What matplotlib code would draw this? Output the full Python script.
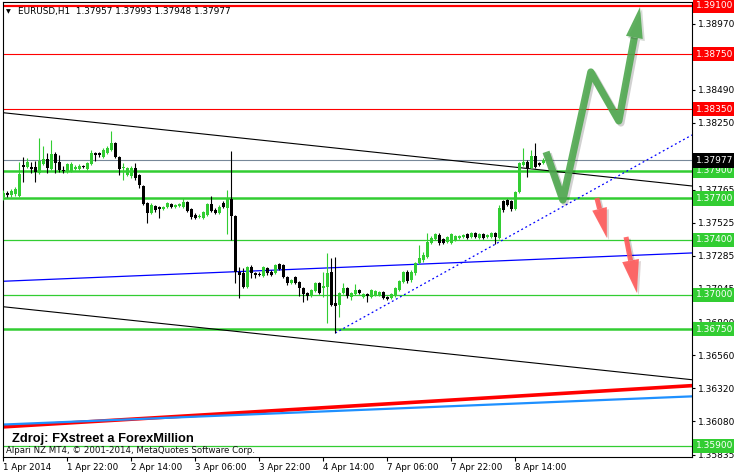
import numpy as np
import matplotlib.pyplot as plt
from matplotlib.patches import Polygon
from matplotlib import patheffects as pe

plt.rcParams['font.family'] = ['DejaVu Sans']

# EURUSD H1, bars from 1 Apr 2014 00:00 to 8 Apr 2014 21:00
opens = [1.37711, 1.37740, 1.37726, 1.37733, 1.37718, 1.37944, 1.37929, 1.37929, 1.37929, 1.37886,
         1.37951, 1.37988, 1.37915, 1.38024, 1.37966, 1.37908, 1.37893, 1.37900, 1.37915, 1.37915,
         1.37937, 1.37915, 1.37951, 1.38031, 1.38031, 1.38002, 1.38031, 1.38053, 1.38104, 1.38002,
         1.37922, 1.37871, 1.37864, 1.37922, 1.37871, 1.37791, 1.37668, 1.37595, 1.37646, 1.37638,
         1.37624, 1.37638, 1.37660, 1.37638, 1.37646, 1.37638, 1.37675, 1.37624, 1.37580, 1.37566,
         1.37558, 1.37580, 1.37660, 1.37617, 1.37595, 1.37668, 1.37631, 1.37697, 1.37573, 1.37166,
         1.37159, 1.37057, 1.37202, 1.37159, 1.37151, 1.37137, 1.37195, 1.37166, 1.37159, 1.37224,
         1.37217, 1.37130, 1.37086, 1.37130, 1.37093, 1.37049, 1.37013, 1.36991, 1.37027, 1.37086,
         1.37049, 1.37057, 1.37166, 1.36940, 1.36926, 1.37013, 1.37049, 1.36984, 1.37006, 1.37035,
         1.36984, 1.37006, 1.36984, 1.36998, 1.36998, 1.37020, 1.36984, 1.36977, 1.36991, 1.37035,
         1.37093, 1.37166, 1.37108, 1.37159, 1.37231, 1.37253, 1.37275, 1.37377, 1.37406, 1.37435,
         1.37406, 1.37384, 1.37377, 1.37399, 1.37413, 1.37420, 1.37442, 1.37420, 1.37449, 1.37413,
         1.37442, 1.37420, 1.37420, 1.37449, 1.37413, 1.37682, 1.37689, 1.37682, 1.37624, 1.37748,
         1.37944, 1.37966, 1.37922, 1.38009, 1.37959, 1.37957]
highs = [1.37762, 1.37755, 1.37769, 1.37784, 1.37966, 1.38002, 1.37995, 1.37966, 1.37973, 1.38140,
         1.38082, 1.38031, 1.38126, 1.38038, 1.38017, 1.37937, 1.37959, 1.37966, 1.37944, 1.37951,
         1.37944, 1.37966, 1.38053, 1.38038, 1.38038, 1.38068, 1.38082, 1.38191, 1.38111, 1.38009,
         1.37959, 1.37929, 1.37937, 1.37959, 1.37879, 1.37799, 1.37675, 1.37668, 1.37653, 1.37646,
         1.37646, 1.37675, 1.37668, 1.37660, 1.37668, 1.37704, 1.37682, 1.37631, 1.37595, 1.37588,
         1.37609, 1.37668, 1.37718, 1.37631, 1.37653, 1.37682, 1.37762, 1.38046, 1.37580, 1.37202,
         1.37195, 1.37210, 1.37217, 1.37166, 1.37166, 1.37210, 1.37202, 1.37181, 1.37224, 1.37231,
         1.37224, 1.37137, 1.37115, 1.37137, 1.37101, 1.37057, 1.37020, 1.37042, 1.37093, 1.37093,
         1.37166, 1.37304, 1.37268, 1.37275, 1.37020, 1.37086, 1.37057, 1.37020, 1.37079, 1.37042,
         1.37013, 1.37013, 1.37042, 1.37035, 1.37027, 1.37027, 1.36991, 1.37013, 1.37057, 1.37108,
         1.37173, 1.37181, 1.37181, 1.37239, 1.37362, 1.37311, 1.37449, 1.37428, 1.37449, 1.37449,
         1.37413, 1.37428, 1.37449, 1.37435, 1.37435, 1.37442, 1.37449, 1.37457, 1.37457, 1.37449,
         1.37449, 1.37442, 1.37457, 1.37457, 1.37653, 1.37689, 1.37697, 1.37689, 1.37755, 1.37966,
         1.38068, 1.37980, 1.38053, 1.38104, 1.37966, 1.37993]
lows = [1.37689, 1.37711, 1.37711, 1.37718, 1.37711, 1.37820, 1.37922, 1.37886, 1.37820, 1.37879,
        1.37944, 1.37886, 1.37908, 1.37886, 1.37893, 1.37886, 1.37886, 1.37893, 1.37908, 1.37908,
        1.37922, 1.37908, 1.37944, 1.37973, 1.38002, 1.37995, 1.38024, 1.38046, 1.37995, 1.37871,
        1.37835, 1.37864, 1.37849, 1.37835, 1.37777, 1.37653, 1.37522, 1.37588, 1.37602, 1.37558,
        1.37617, 1.37631, 1.37631, 1.37631, 1.37638, 1.37631, 1.37602, 1.37551, 1.37551, 1.37558,
        1.37551, 1.37573, 1.37602, 1.37588, 1.37588, 1.37631, 1.37442, 1.37399, 1.37086, 1.36977,
        1.37049, 1.37049, 1.37122, 1.37122, 1.37137, 1.37130, 1.37144, 1.37137, 1.37151, 1.37181,
        1.37122, 1.37071, 1.37079, 1.37079, 1.36991, 1.36948, 1.36962, 1.36984, 1.37020, 1.37006,
        1.36984, 1.36795, 1.36918, 1.36722, 1.36838, 1.37006, 1.36977, 1.36962, 1.36998, 1.37006,
        1.36977, 1.36948, 1.36977, 1.36991, 1.36991, 1.36969, 1.36962, 1.36969, 1.36984, 1.37027,
        1.37086, 1.37086, 1.37093, 1.37144, 1.37224, 1.37239, 1.37268, 1.37370, 1.37399, 1.37362,
        1.37370, 1.37377, 1.37370, 1.37391, 1.37406, 1.37413, 1.37406, 1.37413, 1.37413, 1.37406,
        1.37406, 1.37413, 1.37413, 1.37370, 1.37406, 1.37602, 1.37646, 1.37609, 1.37617, 1.37740,
        1.37937, 1.37857, 1.37915, 1.37922, 1.37937, 1.37948]
closes = [1.37740, 1.37726, 1.37755, 1.37769, 1.37879, 1.37929, 1.37966, 1.37915, 1.37893, 1.37973,
          1.37988, 1.37922, 1.38024, 1.37959, 1.37908, 1.37900, 1.37951, 1.37951, 1.37929, 1.37937,
          1.37929, 1.37959, 1.38031, 1.38017, 1.38017, 1.38053, 1.38068, 1.38104, 1.38002, 1.37915,
          1.37929, 1.37922, 1.37922, 1.37849, 1.37799, 1.37660, 1.37595, 1.37653, 1.37617, 1.37624,
          1.37638, 1.37668, 1.37638, 1.37653, 1.37660, 1.37675, 1.37609, 1.37566, 1.37558, 1.37573,
          1.37602, 1.37660, 1.37609, 1.37595, 1.37638, 1.37638, 1.37697, 1.37573, 1.37166, 1.37144,
          1.37057, 1.37202, 1.37159, 1.37144, 1.37144, 1.37202, 1.37159, 1.37144, 1.37217, 1.37188,
          1.37130, 1.37086, 1.37108, 1.37086, 1.37049, 1.37006, 1.36991, 1.37035, 1.37086, 1.37013,
          1.37064, 1.37159, 1.36926, 1.36918, 1.37013, 1.37049, 1.36991, 1.37013, 1.37035, 1.37013,
          1.37006, 1.36991, 1.37035, 1.37027, 1.37020, 1.36977, 1.36969, 1.37006, 1.37049, 1.37101,
          1.37166, 1.37101, 1.37166, 1.37231, 1.37268, 1.37290, 1.37384, 1.37413, 1.37442, 1.37377,
          1.37377, 1.37420, 1.37442, 1.37428, 1.37428, 1.37435, 1.37413, 1.37449, 1.37420, 1.37442,
          1.37413, 1.37435, 1.37449, 1.37420, 1.37631, 1.37617, 1.37653, 1.37624, 1.37748, 1.37959,
          1.37966, 1.37922, 1.38009, 1.37929, 1.37944, 1.37977]

time_labels = ['1 Apr 2014', '1 Apr 22:00', '2 Apr 14:00', '3 Apr 06:00', '3 Apr 22:00',
               '4 Apr 14:00', '7 Apr 06:00', '7 Apr 22:00', '8 Apr 14:00']
time_label_bars = [0, 16, 32, 48, 64, 80, 96, 112, 128]

price_ticks = [1.38970, 1.38730, 1.38490, 1.38250, 1.38005, 1.37765, 1.37525, 1.37285,
               1.37045, 1.36800, 1.36560, 1.36320, 1.36080, 1.35835]

red_levels = [1.3910, 1.3875, 1.3835]
red_widths = [1.6, 0.8, 0.8]
green_levels = [1.3790, 1.3770, 1.3740, 1.3700, 1.3675, 1.3590]
green_widths = [1.8, 1.8, 0.9, 0.9, 1.8, 0.9]
last_price = 1.37977

# trend lines as (bar, price) end points
channel_top = ([-0.1, 172.2], [1.38324, 1.37791])
channel_bottom = ([-0.1, 172.2], [1.36913, 1.36382])
blue_line = ([-0.1, 172.2], [1.37098, 1.37304])
support_dotted = ([83, 172.2], [1.36722, 1.38162])
red_long = ([-0.1, 172.2], [1.36039, 1.36339])
dodger_long = ([-0.1, 172.2], [1.36056, 1.36261])

# hand drawn scenario arrows (bar, price)
green_path_x = [135.7, 139.9, 146.9, 153.9, 159.2]
green_path_y = [1.38039, 1.37689, 1.38620, 1.38264, 1.39093]
red1_x = [148.4, 150.9]
red1_y = [1.37704, 1.37413]
red2_x = [155.7, 158.4]
red2_y = [1.37420, 1.37013]

LIME = '#32CD32'

fig = plt.figure(figsize=(7.34, 4.75), dpi=100)
ax = fig.add_axes([3 / 734, 18 / 475, 689 / 734, 455 / 475])
ax.set_xlim(-0.1, 172.2)
ax.set_ylim(1.35820, 1.39129)

for lvl, w in zip(red_levels, red_widths):
    ax.axhline(lvl, color='red', lw=w, zorder=1)
for lvl, w in zip(green_levels, green_widths):
    ax.axhline(lvl, color=LIME, lw=w, zorder=1)
ax.axhline(last_price, color='#778899', lw=0.8, zorder=1)

ax.plot(*channel_top, color='black', lw=0.8, zorder=2)
ax.plot(*channel_bottom, color='black', lw=0.8, zorder=2)
ax.plot(*blue_line, color='blue', lw=0.9, zorder=2)
ax.plot(*support_dotted, color='blue', lw=0.9, dashes=(1.5, 2.2), zorder=2)
ax.plot(*red_long, color='red', lw=2.6, zorder=2)
ax.plot(*dodger_long, color='#1E90FF', lw=1.6, zorder=2)

# candles
o = np.array(opens)
h = np.array(highs)
l = np.array(lows)
c = np.array(closes)
x = np.arange(len(o))
up = c >= o
cols = np.where(up, LIME, 'black')
ax.vlines(x, l, h, colors=cols, lw=0.8, zorder=3)
body = np.maximum(np.abs(c - o), 0.00007)
ax.bar(x, body, bottom=np.minimum(o, c), width=0.75, color=cols, lw=0, zorder=4)


def draw_arrow(xs, ys, color, shaft_w, head_len, head_w):
    pts = ax.transData.transform(np.column_stack([xs, ys]))
    tip = pts[-1]
    d = tip - pts[-2]
    u = d / np.hypot(*d)
    n = np.array([-u[1], u[0]])
    base = tip - u * head_len
    inv = ax.transData.inverted()
    shaft = inv.transform(np.vstack([pts[:-1], base]))
    ax.plot(shaft[:, 0], shaft[:, 1], color=color, lw=shaft_w, alpha=0.9,
            solid_capstyle='butt', solid_joinstyle='round', zorder=6,
            path_effects=[pe.SimpleLineShadow(offset=(1.5, -1.5), alpha=0.18), pe.Normal()])
    head = inv.transform([base + n * head_w / 2, tip, base - n * head_w / 2])
    ax.add_patch(Polygon(head, closed=True, fc=color, ec='none', alpha=0.9, zorder=6,
                         path_effects=[pe.SimplePatchShadow(offset=(1.5, -1.5), alpha=0.18), pe.Normal()]))


draw_arrow(green_path_x, green_path_y, '#4fa84f', 5.2, 31, 17)
draw_arrow(red1_x, red1_y, '#ff5a5a', 3.6, 30, 15)
draw_arrow(red2_x, red2_y, '#ff5a5a', 3.6, 33, 17)

# axes styling
for s in ax.spines.values():
    s.set_color('black')
    s.set_linewidth(0.8)
ax.yaxis.tick_right()
ax.set_yticks(price_ticks)
ax.set_yticklabels([f'{v:.5f}' for v in price_ticks])
ax.tick_params(axis='y', direction='out', length=2.5, width=0.8, pad=1.5, labelsize=6.5)
ax.set_xticks(time_label_bars)
ax.set_xticklabels(time_labels, ha='left')
ax.tick_params(axis='x', direction='out', length=3, width=0.8, pad=1, labelsize=6.3)

# price labels in coloured boxes on the right scale
box_levels = red_levels + green_levels + [last_price]
box_colors = ['red'] * len(red_levels) + [LIME] * len(green_levels) + ['black']
for lvl, col in zip(box_levels, box_colors):
    ax.annotate(f'{lvl:.5f}', xy=(1, lvl), xycoords=('axes fraction', 'data'),
                xytext=(2.5, 0), textcoords='offset points', ha='left', va='center',
                fontsize=6.5, color='white', annotation_clip=False, zorder=10,
                bbox=dict(boxstyle='square,pad=0.3', fc=col, ec='none'))

# header and footer texts
fig.text(6 / 734, 1 - 13 / 475, '\u25bc', fontsize=4.5, color='black')
fig.text(18 / 734, 1 - 14 / 475, 'EURUSD,H1  1.37957 1.37993 1.37948 1.37977',
         fontsize=6.4, color='black', va='baseline')
fig.text(12 / 734, 1 - 442 / 475, 'Zdroj: FXstreet a ForexMillion', fontsize=9.3,
         fontweight='bold', family=['Liberation Sans', 'DejaVu Sans'], va='baseline')
fig.text(6 / 734, 1 - 453 / 475, 'Alpari NZ MT4, \u00a9 2001-2014, MetaQuotes Software Corp.',
         fontsize=6.2, color='#111111', va='baseline')

fig.savefig('out.png', dpi=100)
